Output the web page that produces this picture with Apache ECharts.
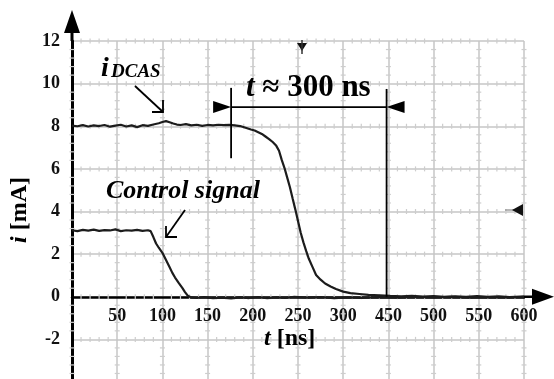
<!DOCTYPE html>
<html>
<head>
<meta charset="utf-8">
<script src="https://cdn.jsdelivr.net/npm/echarts@6/dist/echarts.min.js"></script>
<style>
html,body{margin:0;padding:0;background:#fff;}
#c{width:554px;height:379px;}
</style>
</head>
<body>
<div id="c"></div>
<script>
// x positions are in "graticule ns" (50 per division); labels as printed on the original axis
const tickLabels = ['', '50', '100', '150', '200', '250', '300', '450', '500', '550', '600'];

const dcasTime = [0,6,12,18,24,30,36,42,48,54,60,66,72,78,84,90,96,100,104,108,112,116,120,126,132,138,144,150,156,162,168,174,180,186,192,198,202,206,210,214,218,222,226,229,232,235,238,241,244,247,250,253,256,259,262,266,270,275,280,286,292,300,308,318,328,340,352,364,376,388,400,412,424,436,448,460,472,484,496,500];
const dcasCurrent = [8.03,8.00,8.05,7.99,8.04,8.01,8.06,7.98,8.03,8.07,7.99,8.04,7.96,8.05,8.02,8.08,8.14,8.20,8.24,8.19,8.13,8.08,8.06,8.10,8.04,8.07,8.02,8.06,8.04,8.07,8.05,8.06,8.04,8.01,7.93,7.85,7.80,7.72,7.64,7.52,7.40,7.26,7.08,6.85,6.42,6.05,5.60,5.15,4.62,4.10,3.55,3.00,2.55,2.15,1.78,1.40,1.02,0.80,0.62,0.48,0.36,0.24,0.17,0.13,0.09,0.07,0.04,0.02,0.04,0.01,0.03,0.00,0.02,-0.01,0.03,0.00,0.02,-0.02,0.01,0.02];

const ctrlTime = [0,6,12,18,24,30,36,42,48,54,60,66,72,78,84,87,90,93,96,100,104,108,111,114,118,122,125,128,132,138,146,156,166,176,186,196,206,216,226,236,246,260,275,290,305,320,340,360,380,400,420,440,460,480,500];
const ctrlCurrent = [3.12,3.08,3.14,3.10,3.15,3.09,3.13,3.11,3.16,3.08,3.12,3.10,3.14,3.09,3.12,3.08,2.80,2.50,2.30,2.06,1.72,1.38,1.12,0.90,0.65,0.42,0.22,0.05,-0.03,-0.06,-0.02,-0.07,-0.04,-0.08,-0.03,-0.06,-0.02,-0.07,-0.03,-0.05,-0.01,-0.04,-0.02,-0.06,-0.03,-0.05,-0.02,-0.04,-0.01,-0.03,-0.01,-0.04,-0.02,-0.03,-0.02];

const yTicks = { min: -4, max: 12, interval: 2 };
const xTicks = { min: 0, max: 500, interval: 50 };

const SERIF = '"Liberation Serif","Times New Roman",serif';
const GRID_COLOR = '#c6c6c6';
const TRACE = '#1c1c1c';
const GRID_TOP = 41, GRID_H = 341;

function pairs(xs, ys){ return xs.map((x,i)=>[x, ys[i]]); }

// shift the x axis up from the grid bottom to the y = 0 level
const zeroOffset = -GRID_H * (0 - yTicks.min) / (yTicks.max - yTicks.min);

const chart = echarts.init(document.getElementById('c'), null, {renderer:'canvas'});
chart.setOption({
  animation: false,
  backgroundColor: '#fff',
  grid: { left: 72, top: GRID_TOP, width: 452, height: GRID_H, containLabel: false, outerBoundsMode: 'none' },
  xAxis: {
    type: 'value', min: xTicks.min, max: xTicks.max, interval: xTicks.interval, position: 'bottom', offset: zeroOffset,
    axisLine: { show: true, onZero: false, lineStyle: { color: '#000', width: 2.5 } },
    axisTick: { show: false },
    splitLine: { show: true, lineStyle: { color: GRID_COLOR, width: 1.5 } },
    axisLabel: {
      show: true, margin: 11, hideOverlap: false,
      fontFamily: SERIF, fontWeight: 'bold', fontSize: 18, color: '#111',
      formatter: v => tickLabels[Math.round(v / 50)] || ''
    }
  },
  yAxis: {
    type: 'value', min: yTicks.min, max: yTicks.max, interval: yTicks.interval,
    axisLine: { show: true, onZero: false, lineStyle: { color: '#000', width: 3 } },
    axisTick: { show: false },
    splitLine: { show: true, lineStyle: { color: GRID_COLOR, width: 1.5 } },
    axisLabel: {
      show: true, margin: 12, hideOverlap: false,
      fontFamily: SERIF, fontWeight: 'bold', fontSize: 18, color: '#111',
      formatter: v => (v === yTicks.min ? '' : String(v))
    }
  },
  series: [
    { type: 'line', data: pairs(ctrlTime, ctrlCurrent), showSymbol: false, symbol: 'none',
      lineStyle: { color: TRACE, width: 2.2 }, z: 5 },
    { type: 'line', data: pairs(dcasTime, dcasCurrent), showSymbol: false, symbol: 'none',
      lineStyle: { color: TRACE, width: 2.2 }, z: 5 }
  ]
});

const P = (x, y) => chart.convertToPixel({ gridIndex: 0 }, [x, y]);
const o = P(0, 0), top12 = P(0, 12), xEnd = P(500, 0);

const g = [];
// oscilloscope graticule sub-division marks (5 per division) along every grid line
const minorStyle = { stroke: '#cdcdcd', lineWidth: 1.2 };
for (let gx = xTicks.min; gx <= xTicks.max; gx += xTicks.interval) {
  const nSub = 5 * (yTicks.max - yTicks.min) / yTicks.interval;
  for (let k = 1; k < nSub; k++) {
    if (k % 5 === 0) continue;
    const p = P(gx, yTicks.min + k * yTicks.interval / 5);
    g.push({ type: 'line', silent: true, z: 1, shape: { x1: p[0] - 2.5, y1: p[1], x2: p[0] + 2.5, y2: p[1] }, style: minorStyle });
  }
}
for (let gy = yTicks.min; gy <= yTicks.max; gy += yTicks.interval) {
  const nSub = 5 * (xTicks.max - xTicks.min) / xTicks.interval;
  for (let k = 1; k < nSub; k++) {
    if (k % 5 === 0) continue;
    const p = P(xTicks.min + k * xTicks.interval / 5, gy);
    g.push({ type: 'line', silent: true, z: 1, shape: { x1: p[0], y1: p[1] - 2.5, x2: p[0], y2: p[1] + 2.5 }, style: minorStyle });
  }
}

// annotation anchor points in data space
const annoStart = 176, annoEnd = 348, annoLevel = 8.9;
const a1 = P(annoStart, annoLevel), a2 = P(annoEnd, annoLevel);
const v1t = P(annoStart, 9.8), v1b = P(annoStart, 6.5);
const v2t = P(annoEnd, 9.75), v2b = P(annoEnd, 0);

const blk = { stroke: '#000', lineWidth: 1.8 };
// axis extensions + arrowheads
g.push({ type: 'line', shape: { x1: o[0], y1: top12[1], x2: o[0], y2: top12[1] - 12 }, style: { stroke: '#000', lineWidth: 3 }, z: 100 });
g.push({ type: 'polygon', shape: { points: [[o[0], top12[1] - 31], [o[0] - 8, top12[1] - 8], [o[0] + 8, top12[1] - 8]] }, style: { fill: '#000' }, z: 100 });
g.push({ type: 'line', shape: { x1: xEnd[0], y1: o[1], x2: xEnd[0] + 12, y2: o[1] }, style: { stroke: '#000', lineWidth: 2.5 }, z: 100 });
g.push({ type: 'polygon', shape: { points: [[xEnd[0] + 30, o[1]], [xEnd[0] + 8, o[1] - 8], [xEnd[0] + 8, o[1] + 8]] }, style: { fill: '#000' }, z: 100 });

// oscilloscope markers
g.push({ type: 'polygon', shape: { points: [[297, 43], [307, 43], [302, 51]] }, style: { fill: '#111' }, z: 100 });
g.push({ type: 'line', shape: { x1: 302, y1: 40, x2: 302, y2: 54 }, style: { stroke: '#333', lineWidth: 1.5 }, z: 100 });
g.push({ type: 'polygon', shape: { points: [[512, 210], [523, 204], [523, 216]] }, style: { fill: '#111' }, z: 100 });
g.push({ type: 'line', shape: { x1: 505, y1: 210, x2: 523, y2: 210 }, style: { stroke: '#888', lineWidth: 1.2 }, z: 99 });

// t ~ 300 ns dimension
g.push({ type: 'line', shape: { x1: v1t[0], y1: v1t[1], x2: v1b[0], y2: v1b[1] }, style: blk, z: 100 });
g.push({ type: 'line', shape: { x1: v2t[0], y1: v2t[1], x2: v2b[0], y2: v2b[1] }, style: blk, z: 100 });
g.push({ type: 'line', shape: { x1: a1[0], y1: a1[1], x2: a2[0], y2: a2[1] }, style: blk, z: 100 });
g.push({ type: 'polygon', shape: { points: [[a1[0], a1[1]], [a1[0] - 18, a1[1] - 6], [a1[0] - 18, a1[1] + 6]] }, style: { fill: '#000' }, z: 100 });
g.push({ type: 'polygon', shape: { points: [[a2[0], a2[1]], [a2[0] + 18, a2[1] - 6], [a2[0] + 18, a2[1] + 6]] }, style: { fill: '#000' }, z: 100 });

// pointer arrows
g.push({ type: 'line', shape: { x1: 135, y1: 86, x2: 163, y2: 112 }, style: blk, z: 100 });
g.push({ type: 'polyline', shape: { points: [[152, 112], [163, 112], [163, 100]] }, style: blk, z: 100 });
g.push({ type: 'line', shape: { x1: 185, y1: 210, x2: 166, y2: 237 }, style: blk, z: 100 });
g.push({ type: 'polyline', shape: { points: [[177, 237], [166, 237], [166, 226]] }, style: blk, z: 100 });

function txt(text, x, y, font, extra) {
  return Object.assign({ type: 'text', x: x, y: y, z: 110,
    style: { text: text, x: 0, y: 0, font: font, fill: '#000', align: 'left', verticalAlign: 'middle' } }, extra || {});
}
g.push(txt('i', 101, 68.5, 'italic bold 28px ' + SERIF));
g.push(txt('DCAS', 111, 71.6, 'italic bold 19px ' + SERIF));
g.push(txt('Control signal', 106, 191.2, 'italic bold 26px ' + SERIF));
g.push({ type: 'text', x: 246, y: 87.5, z: 110, style: {
  text: '{i|t}{r| ≈ 300 ns}', x: 0, y: 0, align: 'left', verticalAlign: 'middle', fill: '#000',
  rich: { i: { font: 'italic bold 31px ' + SERIF, fill: '#000' }, r: { font: 'bold 31px ' + SERIF, fill: '#000' } } } });
g.push({ type: 'text', x: 264, y: 339, z: 110, style: {
  text: '{i|t}{r| [ns]}', x: 0, y: 0, align: 'left', verticalAlign: 'middle', fill: '#000',
  rich: { i: { font: 'italic bold 24px ' + SERIF, fill: '#000' }, r: { font: 'bold 24px ' + SERIF, fill: '#000' } } } });
g.push({ type: 'text', x: 20, y: 210, rotation: Math.PI / 2, z: 110, style: {
  text: '{i|i}{r| [mA]}', x: 0, y: 0, align: 'center', verticalAlign: 'middle', fill: '#000',
  rich: { i: { font: 'italic bold 24px ' + SERIF, fill: '#000' }, r: { font: 'bold 24px ' + SERIF, fill: '#000' } } } });

chart.setOption({ graphic: g });
</script>
</body>
</html>
